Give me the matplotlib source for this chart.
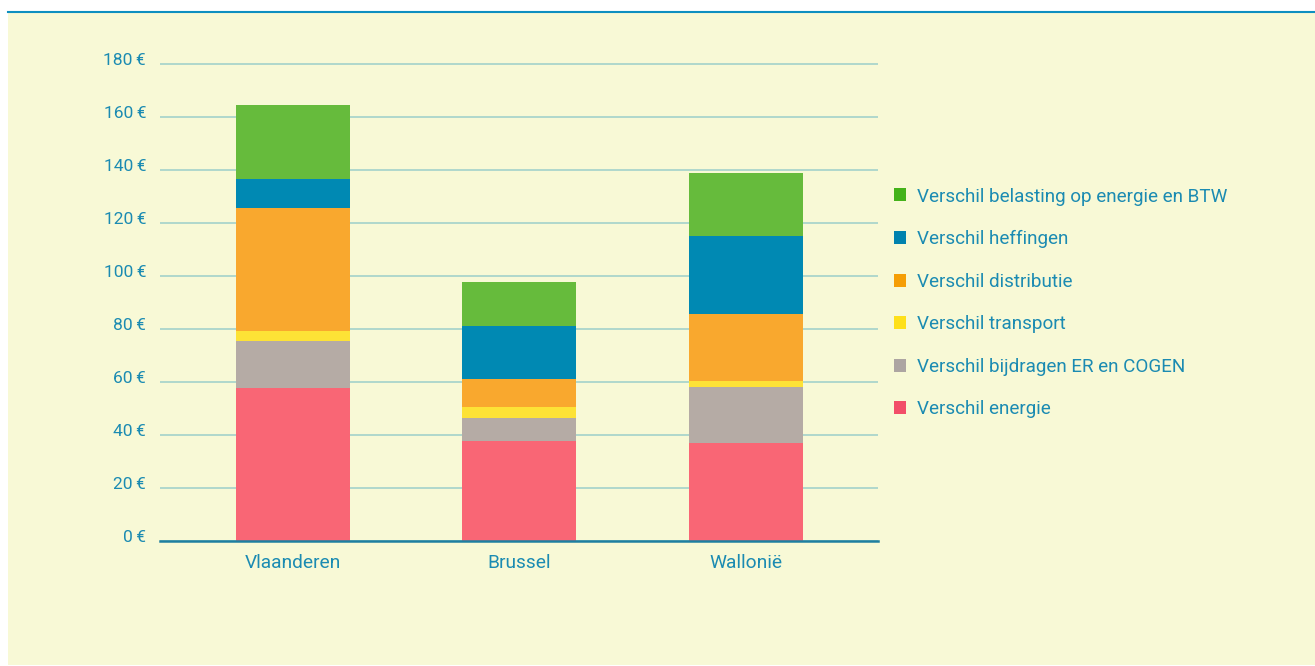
import matplotlib
matplotlib.use("Agg")
import matplotlib.pyplot as plt
from matplotlib.patches import Patch, Rectangle
from matplotlib.lines import Line2D
from matplotlib.transforms import ScaledTranslation
import numpy as np

plt.rcParams['font.family'] = ['Roboto', 'DejaVu Sans']

regions = ['Vlaanderen', 'Brussel', 'Wallonië']
series = ['Verschil energie', 'Verschil bijdragen ER en COGEN', 'Verschil transport',
          'Verschil distributie', 'Verschil heffingen', 'Verschil belasting op energie en BTW']
energie = [57.7, 37.7, 37.0]
bijdragen = [17.8, 8.7, 21.1]
transport = [3.7, 4.2, 2.3]
distributie = [46.6, 10.5, 25.3]
heffingen = [10.8, 20.0, 29.4]
belasting = [27.9, 16.6, 23.8]
yticks = [0, 20, 40, 60, 80, 100, 120, 140, 160, 180]

bar_colors = ['#F96675', '#B5ABA5', '#FDE236', '#F9A82E', '#0089B3', '#66BB3C']
legend_colors = ['#F24E68', '#ADA5A2', '#FEE01A', '#F59E06', '#0082AE', '#44B21A']
txt = '#1B8BB2'
bg = '#F8F9D6'

fig = plt.figure(figsize=(13.15, 6.66), dpi=100, facecolor='white')
fig.patches.append(Rectangle((8 / 1315, 1 / 666), 1 - 8 / 1315, (666 - 13) / 666,
                             transform=fig.transFigure, facecolor=bg, edgecolor='none', zorder=-5))
fig.lines.append(Line2D([8 / 1315, 1], [(666 - 12) / 666] * 2, transform=fig.transFigure,
                        color='#0E8FC0', lw=1.5, zorder=-4))

ax = fig.add_axes([160 / 1315, 125 / 666, 718 / 1315, (541 - 61.35) / 666])
ax.set_facecolor('none')
ax.set_zorder(2)

x = np.arange(len(regions))
bottom = np.zeros(len(regions))
for vals, col in zip([energie, bijdragen, transport, distributie, heffingen, belasting], bar_colors):
    ax.bar(x, vals, 0.503, bottom=bottom, color=col, edgecolor='none', zorder=3)
    bottom += np.array(vals)

ax.set_xlim(-0.587, 2.583)
ax.set_ylim(0, 181)
ax.set_yticks(yticks)
ax.set_yticklabels([f'{v}\u2009€' for v in yticks])
ax.set_xticks(x)
ax.set_xticklabels(regions)
ax.tick_params(axis='both', length=0, colors=txt)
ax.tick_params(axis='y', pad=10, labelsize=12.5)
ax.tick_params(axis='x', pad=9, labelsize=13.8)
# labels in the reference sit a little above their gridlines
shift = ScaledTranslation(0, 5 / 100, fig.dpi_scale_trans)
for lab in ax.get_yticklabels():
    lab.set_transform(lab.get_transform() + shift)
ax.grid(axis='y', color='#B0D8CC', lw=1.4, zorder=1)
for s in ['left', 'right', 'top']:
    ax.spines[s].set_visible(False)
ax.spines['bottom'].set_color('#1F7FA0')
ax.spines['bottom'].set_linewidth(1.8)
ax.spines['bottom'].set_zorder(4)

handles = [Patch(facecolor=c, edgecolor='none') for c in legend_colors][::-1]
leg = fig.legend(handles, series[::-1], loc='upper left', bbox_to_anchor=(886 / 1315, (666 - 180) / 666),
                 frameon=False, fontsize=13.6, handlelength=0.68, handleheight=0.68,
                 handletextpad=0.58, labelspacing=1.3, borderaxespad=0)
for t in leg.get_texts():
    t.set_color(txt)

fig.savefig('out.png', dpi=100, facecolor='white')
